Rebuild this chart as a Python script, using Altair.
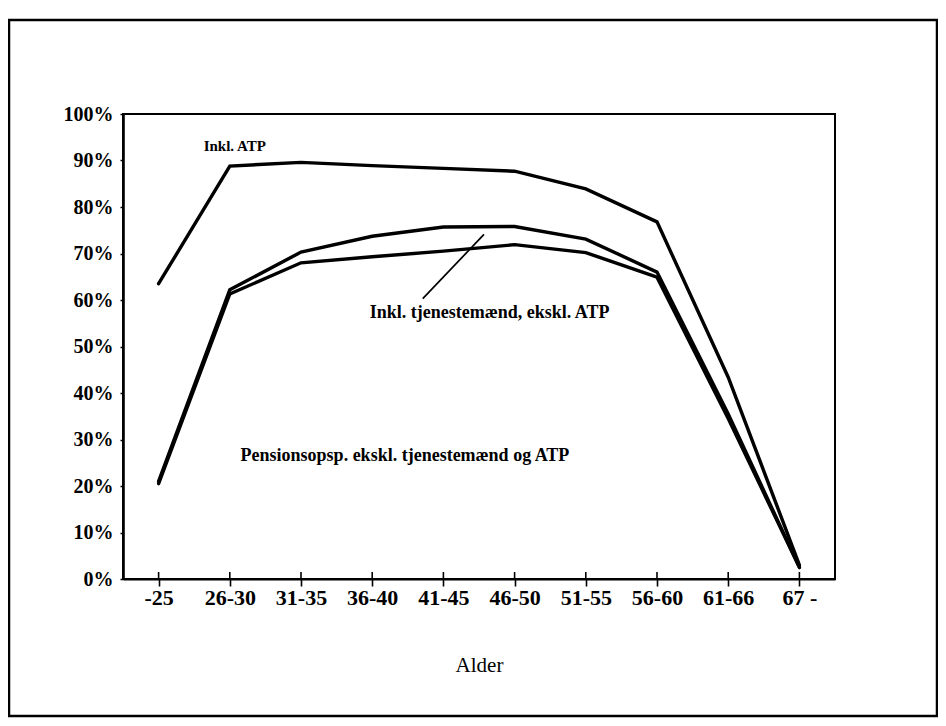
import json
import altair as alt
import pandas as pd

# ---- data ----
age_labels = ["-25", "26-30", "31-35", "36-40", "41-45", "46-50", "51-55", "56-60", "61-66", "67 -"]
inkl_atp = [63.5, 88.8, 89.6, 88.9, 88.3, 87.7, 83.9, 76.8, 43.4, 3.0]
inkl_tjenestemaend = [21.0, 62.2, 70.3, 73.7, 75.7, 75.8, 73.1, 66.0, 35.5, 2.5]
pensionsopsp = [20.5, 61.3, 68.0, 69.3, 70.5, 71.9, 70.2, 64.9, 34.5, 2.5]
y_tick_values = [0, 10, 20, 30, 40, 50, 60, 70, 80, 90, 100]

series_names = ["Inkl. ATP", "Pensionsopsp. ekskl. tjenestemænd og ATP", "Inkl. tjenestemænd, ekskl. ATP"]
series_values = [inkl_atp, pensionsopsp, inkl_tjenestemaend]
series_widths = [3.4, 3.4, 1.7]

ann_texts = ["Inkl. ATP", "Inkl. tjenestemænd, ekskl. ATP", "Pensionsopsp. ekskl. tjenestemænd og ATP"]
ann_x = [1.07, 4.65, 3.46]
ann_y = [92.1, 56.1, 25.4]
ann_size = [15, 18, 18]

leader_x = [3.71, 4.57]
leader_y = [60.3, 74.1]

FONT = "Liberation Serif"

rows = []
for name, vals in zip(series_names, series_values):
    for i, v in enumerate(vals):
        rows.append({"idx": i, "alder": age_labels[i], "serie": name, "pct": v})
df = pd.DataFrame(rows)

label_expr = json.dumps(age_labels) + "[datum.value]"

x_scale = alt.Scale(domain=[-0.5, len(age_labels) - 0.5], nice=False, zero=False)
y_scale = alt.Scale(domain=[0, 100], nice=False)

x_axis = alt.Axis(
    values=list(range(len(age_labels))), labelExpr=label_expr, grid=False,
    domainColor="black", domainWidth=2, tickColor="black", tickWidth=1.6, tickSize=7,
    labelFont=FONT, labelFontWeight="bold", labelFontSize=22, labelColor="black",
    labelPadding=1, labelBaseline="top",
    title="Alder", titleFont=FONT, titleFontWeight="normal", titleFontSize=21,
    titleColor="black", titlePadding=46,
)
y_axis = alt.Axis(
    values=y_tick_values, labelExpr="datum.value + '%'", grid=False,
    domainColor="black", domainWidth=2.6, tickColor="black", tickWidth=1.5, tickSize=3,
    labelFont=FONT, labelFontWeight="bold", labelFontSize=20, labelColor="black",
    labelPadding=7, title=None,
)

lines = alt.Chart(df).mark_line(color="black", strokeCap="round", strokeJoin="miter").encode(
    x=alt.X("idx:Q", scale=x_scale, axis=x_axis),
    y=alt.Y("pct:Q", scale=y_scale, axis=y_axis),
    detail="serie:N",
    strokeWidth=alt.StrokeWidth("serie:N", scale=alt.Scale(domain=series_names, range=series_widths), legend=None),
    order="idx:Q",
)

inner_ticks = alt.Chart(pd.DataFrame({"idx": list(range(len(age_labels))), "y0": 0, "y1": 1.5})).mark_rule(
    color="black", strokeWidth=1.6
).encode(x="idx:Q", y="y0:Q", y2="y1:Q")

ann_df = pd.DataFrame({"t": ann_texts, "x": ann_x, "y": ann_y, "s": ann_size})
annotations = alt.Chart(ann_df).mark_text(
    font=FONT, fontWeight="bold", color="black", align="center", baseline="alphabetic"
).encode(x="x:Q", y="y:Q", text="t:N", size=alt.Size("s:Q", scale=None, legend=None))

leader = alt.Chart(pd.DataFrame({"x": leader_x, "y": leader_y})).mark_line(
    color="black", strokeWidth=1.7
).encode(x="x:Q", y="y:Q")

frame = alt.Chart(pd.DataFrame({"a": [0]})).mark_rect(
    filled=False, stroke="black", strokeWidth=2.5
).encode(x=alt.value(-114), x2=alt.value(814), y=alt.value(-94), y2=alt.value(602))

chart = alt.layer(frame, inner_ticks, lines, leader, annotations).properties(
    width=712, height=465,
    autosize=alt.AutoSizeParams(type="none"),
    padding={"left": 115, "top": 106, "right": 103, "bottom": 139},
    background="white",
).configure_view(stroke="black", strokeWidth=2)

chart.save("out.html", embed_options={"renderer": "svg", "actions": False})
